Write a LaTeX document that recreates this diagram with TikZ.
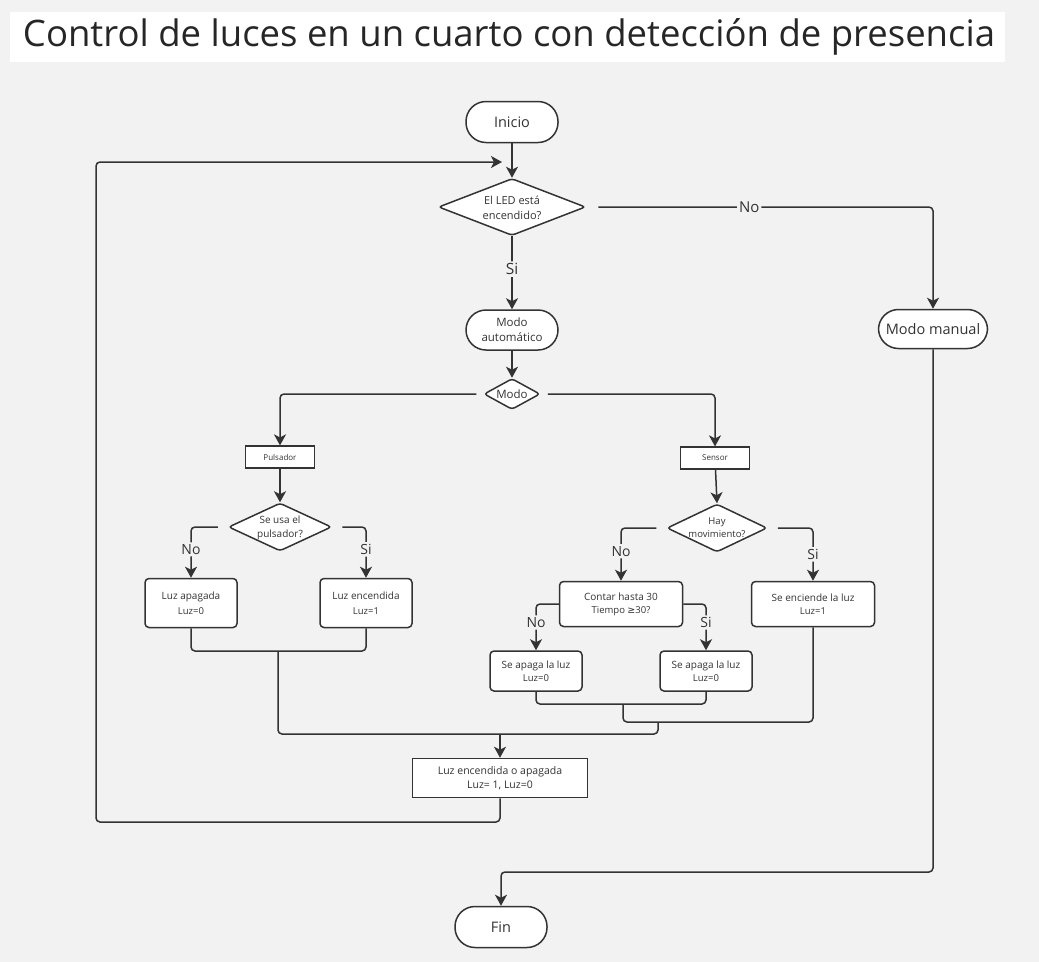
\documentclass[tikz,border=0pt]{standalone}
\usepackage{fontspec}
\setmainfont{Open Sans}
\newfontfamily\symfont{DejaVu Sans}
\usepackage{tikz}
\usetikzlibrary{arrows.meta,shapes.geometric}

\definecolor{bg}{HTML}{F2F2F2}
\definecolor{ink}{HTML}{333333}

\begin{document}
\begin{tikzpicture}[x=1pt, y=-1pt, line width=1.5pt, color=ink,
    term/.style={draw, fill=white, rounded corners=20pt, minimum width=92pt,
      minimum height=41pt, font=\fontsize{14.5}{17}\selectfont},
    dia/.style={draw, fill=white, diamond, inner sep=0pt, rounded corners=3pt},
    dtxt/.style={align=center, font=\fontsize{10}{13.5}\selectfont},
    tag/.style={draw, fill=white, line width=1.2pt, minimum width=69pt,
      minimum height=22pt, font=\fontsize{8}{10}\selectfont},
    box/.style={draw, fill=white, rounded corners=4pt, align=center,
      font=\fontsize{10}{13}\selectfont},
    lbl/.style={fill=bg, inner sep=2pt, font=\fontsize{14}{16}\selectfont},
    flow/.style={draw=ink, rounded corners=4pt},
    arr/.style={flow, -{Stealth[length=11pt, width=12pt, inset=3pt]}}]

    \useasboundingbox (0,0) rectangle (1039,962);
    \fill[bg] (0,0) rectangle (1039,962);

    % title
    \fill[white] (10,12) rectangle (1005,62);
    \node[font=\fontsize{36.5}{40}\selectfont, text=black!85] (title) at (509,37)
      {Control de luces en un cuarto con detección de presencia};

    % start and first question
    \node[term] (inicio) at (512,122) {Inicio};
    \node[dia, minimum width=147pt, minimum height=57pt,
      label={[dtxt, font=\fontsize{11}{15}\selectfont, yshift=-1pt]center:{El LED está\\encendido?}}] (q1) at (512,207) {};
    \node[term, minimum width=109pt, minimum height=39pt, font=\fontsize{14.5}{18}\selectfont] (mman) at (933,329) {Modo manual};
    \node[term, minimum height=40pt, align=center, font=\fontsize{11.5}{15}\selectfont] (mauto) at (512,330) {Modo\\automático};
    \node[dia, minimum width=56pt, minimum height=31pt,
      label={[dtxt, font=\fontsize{11.5}{14}\selectfont]center:{Modo}}] (modo) at (512,394) {};

    % pulsador branch
    \node[tag] (puls) at (280,457) {Pulsador};
    \node[dia, minimum width=103pt, minimum height=48pt,
      label={[dtxt, yshift=-1pt]center:{Se usa el\\pulsador?}}] (q2) at (280,527) {};
    \node[box, minimum width=92pt, minimum height=49pt, font=\fontsize{10}{15}\selectfont] (lapag) at (191,603)
      {Luz apagada\\{\fontsize{9.5}{11}\selectfont Luz=0}};
    \node[box, minimum width=92pt, minimum height=49pt, font=\fontsize{10}{15}\selectfont] (lenc) at (366,603)
      {Luz encendida\\{\fontsize{9.5}{11}\selectfont Luz=1}};

    % sensor branch
    \node[tag] (sens) at (715,458) {Sensor};
    \node[dia, minimum width=100pt, minimum height=48pt,
      label={[dtxt, font=\fontsize{9.5}{13}\selectfont]center:{Hay\\movimiento?}}] (q3) at (717,528) {};
    \node[box, minimum width=123pt, minimum height=45pt] (contar) at (621,604)
      {Contar hasta 30\\{\fontsize{9.5}{11}\selectfont Tiempo {\symfont ≥}30?}};
    \node[box, minimum width=123pt, minimum height=45pt] (senc) at (813,604)
      {Se enciende la luz\\{\fontsize{9.5}{11}\selectfont Luz=1}};
    \node[box, minimum width=92pt, minimum height=40pt] (apag1) at (536,671)
      {Se apaga la luz\\{\fontsize{9.5}{11}\selectfont Luz=0}};
    \node[box, minimum width=92pt, minimum height=40pt] (apag2) at (706,671)
      {Se apaga la luz\\{\fontsize{9.5}{11}\selectfont Luz=0}};

    % result and end
    \node[box, rounded corners=0pt, minimum width=175pt, minimum height=39pt,
      font=\fontsize{10.5}{14}\selectfont] (final) at (500,778) {Luz encendida o apagada\\Luz= 1, Luz=0};
    \node[term] (fin) at (501,927) {Fin};

    % junction points
    \coordinate (mA) at (278,651);
    \coordinate (mB) at (623,704);
    \coordinate (mC) at (658,722);
    \coordinate (jn) at (500,734);
    \coordinate (lp) at (96,822);
    \coordinate (lpE) at (502,162);
    \coordinate (fk) at (933,872);

    % connectors
    \draw[arr] (inicio) -- (q1.north);
    \draw[arr, shorten <=12pt] (q1.east) -- node[lbl, pos=0.47, font=\fontsize{15}{17}\selectfont] {No}
      (q1.east -| mman.north) -- (mman.north);
    \draw[arr] (q1.south) -- node[lbl, pos=0.45, font=\fontsize{15.5}{17}\selectfont] {Si} (mauto.north);
    \draw[arr] (mauto) -- (modo.north);
    \draw[arr, shorten <=7pt] (modo.west) -| (puls.north);
    \draw[arr, shorten <=7pt] (modo.east) -| (sens.north);

    \draw[arr] (puls) -- (q2.north);
    \draw[arr, shorten <=10pt] (q2.west) -| node[lbl, pos=0.72] {No} (lapag.north);
    \draw[arr, shorten <=10pt] (q2.east) -| node[lbl, pos=0.72] {Si} (lenc.north);

    \draw[arr] (sens) -- (q3.north);
    \draw[arr, shorten <=10pt] (q3.west) -| node[lbl, pos=0.72] {No} (contar.north);
    \draw[arr, shorten <=10pt] (q3.east) -| node[lbl, pos=0.75] {Si} (senc.north);
    \draw[arr] (contar.west) -| node[lbl, pos=0.7] {No} (apag1.north);
    \draw[arr] (contar.east) -| node[lbl, pos=0.7] {Si} (apag2.north);

    \draw[flow] (lapag.south) |- (mA) -| (lenc.south);
    \draw[flow] (mA) |- (jn);
    \draw[flow] (apag1.south) |- (mB) -| (apag2.south);
    \draw[flow] (mB) |- (mC) -| (senc.south);
    \draw[flow] (mC) |- (jn);
    \draw[arr] (jn) -- (final.north);

    \draw[arr] (final.south) |- (lp) |- (lpE);
    \draw[arr] (mman.south) -- (fk) -| (fin.north);
\end{tikzpicture}
\end{document}
